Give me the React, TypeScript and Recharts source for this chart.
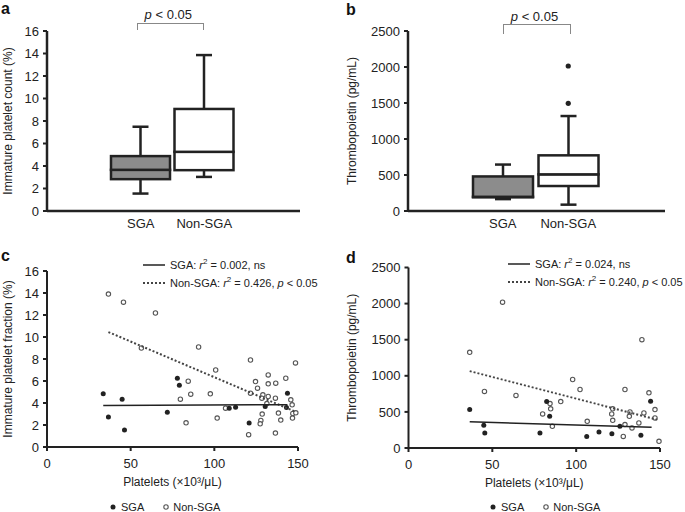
import { ComposedChart, ScatterChart, Bar, Line, Scatter, XAxis, YAxis, Cell } from 'recharts'

const FONT = '"Liberation Sans", Arial, Helvetica, sans-serif'
const INK = '#222'
const TXT = '#222'
const OPEN = '#555'

const groups = ['SGA', 'Non-SGA']
const boxFill = ['#8c8c8c', '#ffffff']

// a: immature platelet count (%)
const ipcMin = [1.55, 3.03]
const ipcQ1 = [2.83, 3.63]
const ipcMedian = [3.66, 5.26]
const ipcQ3 = [4.88, 9.07]
const ipcMax = [7.49, 13.86]

// b: thrombopoietin (pg/mL)
const tpoMin = [165, 88]
const tpoQ1 = [190, 347]
const tpoMedian = [197, 509]
const tpoQ3 = [480, 773]
const tpoMax = [645, 1319]
const tpoOutlierLow = [null, 1495]
const tpoOutlierHigh = [null, 2014]

const pctTicks = [0, 2, 4, 6, 8, 10, 12, 14, 16]
const tpoTicks = [0, 500, 1000, 1500, 2000, 2500]
const plateletTicks = [0, 50, 100, 150]

// c: platelets vs immature platelet fraction
const cSgaPlatelets = [33.6, 36.7, 44.9, 46.3, 71.9, 77.9, 79.1, 108.9, 112.7, 120.8, 130.4, 143.1, 143.7]
const cSgaIpf = [4.83, 2.72, 4.35, 1.54, 3.17, 6.26, 5.62, 3.53, 3.62, 2.18, 3.68, 3.59, 4.89]
const cNonPlatelets = [
  36.7, 45.7, 64.8, 56.4, 90.6, 79.7, 84.4, 85.9, 83.1, 97.6, 100.8, 101.7, 106.7,
  121.6, 148.5, 132.2, 142.7, 124.6, 132.2, 136.7, 125.8, 121.6, 129, 132.2, 128.4,
  136.5, 145.7, 146.5, 131.4, 146.9, 148.7, 138.3, 128.6, 146.7, 139.7, 127.8, 127.4,
  120.5, 136.5,
]
const cNonIpf = [
  13.9, 13.17, 12.18, 9.0, 9.09, 4.35, 5.98, 4.8, 2.2, 4.83, 7.0, 2.63, 3.53,
  7.91, 7.64, 6.55, 6.25, 5.95, 5.74, 5.8, 5.35, 4.89, 4.74, 4.59, 4.44,
  4.44, 4.29, 3.83, 3.95, 3.05, 3.11, 3.08, 2.99, 2.63, 2.45, 2.41, 2.11,
  1.12, 1.27,
]
const cSgaFitX = [33.6, 143.7]
const cSgaFitY = [3.77, 3.85]
const cNonFitX = [36.7, 148.5]
const cNonFitY = [10.45, 3.2]

// d: platelets vs thrombopoietin
const dSgaPlatelets = [36.5, 44.9, 45.5, 78.4, 82.4, 84.2, 106.3, 113.6, 121.3, 126.1, 138.6, 144.4]
const dSgaTpo = [533, 315, 209, 208, 643, 439, 161, 222, 199, 300, 175, 647]
const dNonPlatelets = [
  36.5, 56.1, 45.3, 64.1, 139.2, 97.9, 102.3, 129.1, 143.4, 90.8, 84.4, 84.8, 80.0, 85.8,
  106.6, 121.8, 121.2, 121.8, 132.1, 131.7, 140.4, 147, 147, 137.4, 129.1, 133.3, 128.1, 149.4,
]
const dNonTpo = [
  1325, 2020, 783, 728, 1500, 949, 810, 810, 764, 643, 615, 542, 472, 300,
  369, 542, 472, 383, 500, 439, 486, 532, 417, 347, 324, 278, 161, 92,
]
const dSgaFitX = [36.5, 145]
const dSgaFitY = [362, 286]
const dNonFitX = [36.5, 148.4]
const dNonFitY = [1065, 393]

const zip = (xs: number[], ys: number[]) => xs.map((x, i) => ({ x, y: ys[i] }))

function boxRows(min: number[], q1: number[], med: number[], q3: number[], max: number[], outLow?: (number | null)[], outHigh?: (number | null)[]) {
  return groups.map((name, i) => ({
    name,
    base: min[i],
    lowWhisker: q1[i] - min[i],
    lowBox: med[i] - q1[i],
    highBox: q3[i] - med[i],
    highWhisker: max[i] - q3[i],
    outLow: outLow ? outLow[i] : null,
    outHigh: outHigh ? outHigh[i] : null,
  }))
}

const Nothing = () => <g />

const whisker = (cap: 'top' | 'bottom') => (p: any) => {
  const cx = p.x + p.width / 2
  const capY = cap === 'top' ? p.y : p.y + p.height
  return (
    <g>
      <line x1={cx} x2={cx} y1={p.y} y2={p.y + p.height} stroke={INK} strokeWidth={2.5} />
      <line x1={cx - 8} x2={cx + 8} y1={capY} y2={capY} stroke={INK} strokeWidth={2.5} />
    </g>
  )
}

const BoxPart = (p: any) => (
  <rect x={p.x} y={p.y} width={p.width} height={p.height} fill={p.fill} stroke={INK} strokeWidth={2.5} />
)

const FilledDot = (p: any) => <circle cx={p.cx} cy={p.cy} r={2.5} fill={INK} />
const OpenDot = (p: any) => <circle cx={p.cx} cy={p.cy} r={2.2} fill="#fff" stroke={OPEN} strokeWidth={1.1} />

const tick = { fontSize: 13, fill: TXT, fontFamily: FONT }

function BoxPlot({ rows, domain, ticks, yLabel, width, height, margin, yWidth, labelOffset, padding, barSize }: any) {
  return (
    <ComposedChart width={width} height={height} data={rows} margin={margin}>
      <XAxis
        dataKey="name"
        padding={padding}
        axisLine={{ stroke: INK, strokeWidth: 2.5 }}
        tickLine={false}
        tickSize={4}
        tickMargin={4}
        tick={tick}
        interval={0}
        height={30}
      />
      <YAxis
        type="number"
        domain={domain}
        ticks={ticks}
        interval={0}
        width={yWidth}
        axisLine={{ stroke: INK, strokeWidth: 2.5 }}
        tickLine={{ stroke: INK, strokeWidth: 2 }}
        tickSize={4}
        tickMargin={4}
        tick={tick}
        label={{ value: yLabel, angle: -90, position: 'insideLeft', offset: labelOffset, fontSize: 12, fill: TXT, style: { textAnchor: 'middle', fontFamily: FONT } }}
      />
      <Bar dataKey="base" stackId="box" barSize={barSize} shape={Nothing} isAnimationActive={false} />
      <Bar dataKey="lowWhisker" stackId="box" barSize={barSize} shape={whisker('bottom')} isAnimationActive={false} />
      <Bar dataKey="lowBox" stackId="box" barSize={barSize} shape={BoxPart} isAnimationActive={false}>
        {rows.map((_: any, i: number) => <Cell key={i} fill={boxFill[i]} />)}
      </Bar>
      <Bar dataKey="highBox" stackId="box" barSize={barSize} shape={BoxPart} isAnimationActive={false}>
        {rows.map((_: any, i: number) => <Cell key={i} fill={boxFill[i]} />)}
      </Bar>
      <Bar dataKey="highWhisker" stackId="box" barSize={barSize} shape={whisker('top')} isAnimationActive={false} />
      <Line dataKey="outLow" stroke="none" dot={{ r: 2.6, fill: INK, stroke: 'none' }} activeDot={false} isAnimationActive={false} />
      <Line dataKey="outHigh" stroke="none" dot={{ r: 2.6, fill: INK, stroke: 'none' }} activeDot={false} isAnimationActive={false} />
    </ComposedChart>
  )
}

function ScatterPanel({ sga, non, sgaFit, nonFit, domain, ticks, yLabel, width, height, margin, yWidth, labelOffset }: any) {
  return (
    <ScatterChart width={width} height={height} margin={margin}>
      <XAxis
        type="number"
        dataKey="x"
        domain={[0, 150]}
        ticks={plateletTicks}
        interval={0}
        axisLine={{ stroke: INK, strokeWidth: 2 }}
        tickLine={{ stroke: INK, strokeWidth: 2 }}
        tickSize={4}
        tickMargin={8}
        tick={tick}
        height={30}
        label={{ value: 'Platelets (×10³/μL)', position: 'bottom', offset: 0, fontSize: 12, fill: TXT, style: { fontFamily: FONT } }}
      />
      <YAxis
        type="number"
        dataKey="y"
        domain={domain}
        ticks={ticks}
        interval={0}
        width={yWidth}
        axisLine={{ stroke: INK, strokeWidth: 2 }}
        tickLine={{ stroke: INK, strokeWidth: 2 }}
        tickSize={4}
        tickMargin={4}
        tick={tick}
        label={{ value: yLabel, angle: -90, position: 'insideLeft', offset: labelOffset, fontSize: 12, fill: TXT, style: { textAnchor: 'middle', fontFamily: FONT } }}
      />
      <Scatter data={non} shape={OpenDot} isAnimationActive={false} />
      <Scatter data={sga} shape={FilledDot} isAnimationActive={false} />
      <Scatter data={nonFit} shape={Nothing} line={{ stroke: '#444', strokeWidth: 2, strokeDasharray: '2 2' }} isAnimationActive={false} />
      <Scatter data={sgaFit} shape={Nothing} line={{ stroke: INK, strokeWidth: 1.5 }} isAnimationActive={false} />
    </ScatterChart>
  )
}

const abs = (left: number, top: number, extra: any = {}) => ({ position: 'absolute' as const, left, top, ...extra })

function Letter({ x, y, ch }: { x: number; y: number; ch: string }) {
  return <div style={abs(x, y, { fontSize: 16, fontWeight: 'bold', lineHeight: 1, color: '#111' })}>{ch}</div>
}

function Bracket({ x, y, w, h, tx, ty }: any) {
  return (
    <>
      <div style={abs(x, y, { width: w, height: h, borderTop: '1px solid #888', borderLeft: '1px solid #888', borderRight: '1px solid #888', boxSizing: 'border-box' })} />
      <div style={abs(tx - 40, ty, { width: 80, textAlign: 'center', fontSize: 13, lineHeight: 1, color: TXT })}>
        <i>p</i> &lt; 0.05
      </div>
    </>
  )
}

function FitLegend({ x, y, sgaText, nonText }: any) {
  const row = (top: number, dashed: boolean, content: any) => (
    <div style={abs(x, top, { display: 'flex', alignItems: 'center', height: 14, fontSize: 11, color: TXT, whiteSpace: 'nowrap' })}>
      <svg width={22} height={4} style={{ marginRight: 5 }}>
        <line x1={0} x2={22} y1={2} y2={2} stroke={dashed ? '#444' : INK} strokeWidth={dashed ? 2 : 1.5} strokeDasharray={dashed ? '2 2' : undefined} />
      </svg>
      {content}
    </div>
  )
  return (
    <>
      {row(y, false, <span>SGA: <i>r</i><sup style={{ fontSize: 8, lineHeight: 0 }}>2</sup> = {sgaText}, ns</span>)}
      {row(y + 17.5, true, <span>Non-SGA: <i>r</i><sup style={{ fontSize: 8, lineHeight: 0 }}>2</sup> = {nonText}, <i>p</i> &lt; 0.05</span>)}
    </>
  )
}

function GroupLegend({ x, y }: { x: number; y: number }) {
  return (
    <div style={abs(x, y, { display: 'flex', alignItems: 'center', height: 12, fontSize: 11, color: TXT })}>
      <svg width={8} height={8} style={{ marginRight: 4 }}><circle cx={4} cy={4} r={2.5} fill={INK} /></svg>
      <span style={{ marginRight: 18 }}>SGA</span>
      <svg width={8} height={8} style={{ marginRight: 3 }}><circle cx={4} cy={4} r={2.2} fill="#fff" stroke={OPEN} strokeWidth={1.1} /></svg>
      <span>Non-SGA</span>
    </div>
  )
}

export default function App() {
  return (
    <div style={{ position: 'absolute', left: 0, top: 0, width: 685, height: 512, background: '#fff', fontFamily: FONT, overflow: 'hidden' }}>
      <div style={abs(0, 0)}>
        <BoxPlot
          rows={boxRows(ipcMin, ipcQ1, ipcMedian, ipcQ3, ipcMax)}
          domain={[0, 16]}
          ticks={pctTicks}
          yLabel="Immature platelet count (%)"
          width={340}
          height={260}
          margin={{ top: 31, right: 40, bottom: 19, left: 0 }}
          yWidth={47}
          labelOffset={8}
          padding={{ left: 62, right: 64 }}
          barSize={59}
        />
      </div>
      <div style={abs(340, 0)}>
        <BoxPlot
          rows={boxRows(tpoMin, tpoQ1, tpoMedian, tpoQ3, tpoMax, tpoOutlierLow, tpoOutlierHigh)}
          domain={[0, 2500]}
          ticks={tpoTicks}
          yLabel="Thrombopoietin (pg/mL)"
          width={345}
          height={260}
          margin={{ top: 31, right: 20, bottom: 19, left: 0 }}
          yWidth={68}
          labelOffset={12}
          padding={{ left: 62, right: 64 }}
          barSize={60}
        />
      </div>
      <div style={abs(0, 260)}>
        <ScatterPanel
          sga={zip(cSgaPlatelets, cSgaIpf)}
          non={zip(cNonPlatelets, cNonIpf)}
          sgaFit={zip(cSgaFitX, cSgaFitY)}
          nonFit={zip(cNonFitX, cNonFitY)}
          domain={[0, 16]}
          ticks={pctTicks}
          yLabel="Immature platelet fraction (%)"
          width={340}
          height={252}
          margin={{ top: 11, right: 42, bottom: 35, left: 0 }}
          yWidth={47}
          labelOffset={8}
        />
      </div>
      <div style={abs(340, 260)}>
        <ScatterPanel
          sga={zip(dSgaPlatelets, dSgaTpo)}
          non={zip(dNonPlatelets, dNonTpo)}
          sgaFit={zip(dSgaFitX, dSgaFitY)}
          nonFit={zip(dNonFitX, dNonFitY)}
          domain={[0, 2500]}
          ticks={tpoTicks}
          yLabel="Thrombopoietin (pg/mL)"
          width={345}
          height={252}
          margin={{ top: 7.5, right: 25, bottom: 34, left: 0 }}
          yWidth={68.5}
          labelOffset={12}
        />
      </div>

      <Letter x={1} y={1} ch="a" />
      <Letter x={346} y={1.5} ch="b" />
      <Letter x={1} y={248} ch="c" />
      <Letter x={346} y={249.5} ch="d" />

      <Bracket x={137} y={22.5} w={67} h={7} tx={168.3} ty={8.3} />
      <Bracket x={502.5} y={24} w={68} h={9.5} tx={534.5} ty={10} />

      <FitLegend x={143} y={258} sgaText="0.002" nonText="0.426" />
      <FitLegend x={508} y={257} sgaText="0.024" nonText="0.240" />

      <GroupLegend x={109} y={500.5} />
      <GroupLegend x={489} y={501} />
    </div>
  )
}
